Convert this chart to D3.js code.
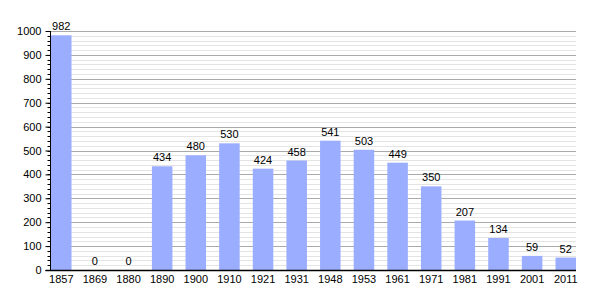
<!DOCTYPE html>
<html>
<head>
<meta charset="utf-8">
<script src="https://cdn.jsdelivr.net/npm/d3@7"></script>
<style>
  body { margin: 0; background: #fff; }
  text { font-family: "Liberation Sans", Arial, sans-serif; font-size: 11px; fill: #000; }
</style>
</head>
<body>
<div id="chart"></div>
<script>
var years = ["1857", "1869", "1880", "1890", "1900", "1910", "1921", "1931", "1948", "1953", "1961", "1971", "1981", "1991", "2001", "2011"];
var population = [982, 0, 0, 434, 480, 530, 424, 458, 541, 503, 449, 350, 207, 134, 59, 52];
var yTicks = [0, 100, 200, 300, 400, 500, 600, 700, 800, 900, 1000];

var w = 605, h = 300;
var mLeft = 50.5, mRight = 576, mTop = 31, mBottom = 270;

var svg = d3.select("#chart").append("svg")
    .attr("width", w)
    .attr("height", h);

var data = years.map(function (y, i) { return { year: y, value: population[i] }; });

var xScale = d3.scaleBand()
    .domain(years)
    .range([mLeft + 0.5, mRight])
    .paddingInner(0.39)
    .paddingOuter(0);

var yScale = d3.scaleLinear()
    .domain([0, 1000])
    .range([mBottom, mTop]);

// minor grid every 20
svg.append("g").selectAll("line")
    .data(d3.range(20, 1001, 20).filter(function (v) { return v % 100 !== 0; }))
    .join("line")
    .attr("x1", mLeft).attr("x2", mRight)
    .attr("y1", d => Math.round(yScale(d)) + 0.5)
    .attr("y2", d => Math.round(yScale(d)) + 0.5)
    .attr("stroke", "#e4e4e4");

// major grid every 100
svg.append("g").selectAll("line")
    .data(yTicks.slice(1))
    .join("line")
    .attr("x1", mLeft).attr("x2", mRight)
    .attr("y1", d => Math.round(yScale(d)) + 0.5)
    .attr("y2", d => Math.round(yScale(d)) + 0.5)
    .attr("stroke", "#aaaaaa");

// bars
svg.append("g").selectAll("rect")
    .data(data)
    .join("rect")
    .attr("x", d => xScale(d.year))
    .attr("width", xScale.bandwidth())
    .attr("y", d => yScale(d.value))
    .attr("height", d => mBottom - yScale(d.value))
    .attr("fill", "#9badff");

// value labels
svg.append("g").selectAll("text")
    .data(data)
    .join("text")
    .attr("x", d => xScale(d.year) + xScale.bandwidth() / 2)
    .attr("y", d => yScale(d.value) - 5)
    .attr("text-anchor", "middle")
    .text(d => d.value);

// y axis with minor ticks
var yAxis = d3.axisLeft(yScale).tickValues(yTicks).tickSize(5).tickPadding(4).tickFormat(d3.format("d"));
var gy = svg.append("g")
    .attr("transform", "translate(" + mLeft + ",0)")
    .call(yAxis);
gy.select(".domain").remove();
gy.selectAll("text").style("font-size", "11px");

svg.append("g").selectAll("line")
    .data(d3.range(0, 1001, 20))
    .join("line")
    .attr("x1", mLeft - 3).attr("x2", mLeft)
    .attr("y1", d => Math.round(yScale(d)) + 0.5)
    .attr("y2", d => Math.round(yScale(d)) + 0.5)
    .attr("stroke", "#000");

svg.append("line")
    .attr("x1", mLeft).attr("x2", mLeft)
    .attr("y1", mTop).attr("y2", mBottom)
    .attr("stroke", "#000");

// x axis
var xAxis = d3.axisBottom(xScale).tickSize(0).tickPadding(5);
var gx = svg.append("g")
    .attr("transform", "translate(0," + mBottom + ")")
    .call(xAxis);
gx.select(".domain").remove();
gx.selectAll("text").style("font-size", "11px");

svg.append("line")
    .attr("x1", mLeft - 5).attr("x2", mRight)
    .attr("y1", mBottom + 0.5).attr("y2", mBottom + 0.5)
    .attr("stroke", "#000")
    .attr("stroke-width", 1.5);
</script>
</body>
</html>
